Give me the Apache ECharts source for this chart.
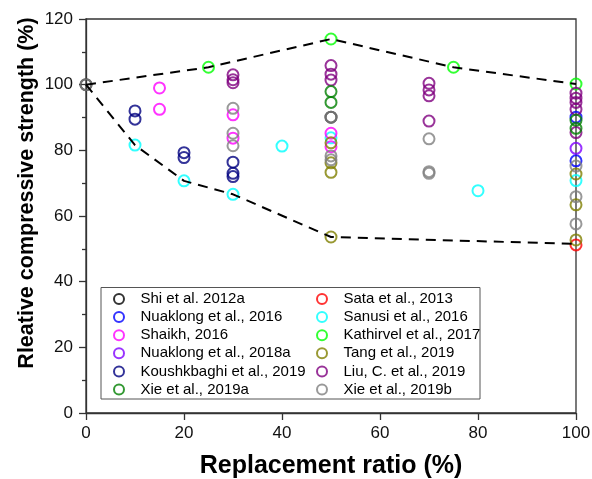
<!DOCTYPE html>
<html>
<head>
<meta charset="utf-8">
<script src="https://cdn.jsdelivr.net/npm/echarts@6/dist/echarts.min.js"></script>
<style>html,body{margin:0;padding:0;background:#fff;}#c{width:592px;height:479px;}</style>
</head>
<body>
<div id="c"></div>
<script>
// ---- data (x = replacement ratio %, y = relative compressive strength %) ----
const shi2012a      = [[0,100],[50,90.1]];
const sata2013      = [[100,51.2]];
const nuaklong2016  = [[100,90.1],[100,76.8]];
const sanusi2016    = [[10,81.6],[20,70.7],[30,66.6],[40,81.3],[50,83.8],[80,67.7],[100,70.8]];
const shaikh2016    = [[15,99],[15,92.5],[30,90.8],[30,83.7],[50,85.2],[50,81.1]];
const kathirvel2017 = [[25,105.3],[50,113.9],[75,105.3],[100,100.2]];
const nuaklong2018a = [[100,80.6]];
const tang2019      = [[50,82.3],[50,76.2],[50,73.3],[50,53.6],[100,72.8],[100,63.4],[100,52.7]];
const koushkbaghi2019 = [[10,92],[10,89.5],[20,79.3],[20,77.8],[30,76.4],[30,73],[30,72]];
const liu2019       = [[30,103],[30,101.5],[30,100.6],[50,105.8],[50,103.2],[50,101.4],[70,100.4],[70,98.4],[70,96.6],[70,88.9],[100,97.4],[100,95.9],[100,94.6],[100,92.5],[100,85.4]];
const xie2019a      = [[50,97.9],[50,94.6],[100,89.2],[100,86.7]];
const xie2019b      = [[0,100],[30,92.8],[30,85.2],[30,81.4],[50,90.1],[50,78.3],[50,77.1],[70,83.5],[70,73.5],[70,73],[100,75.2],[100,65.9],[100,57.6]];

const upperBound = [[0,100],[25,105.3],[50,113.9],[75,105.3],[100,100.2]];
const lowerBound = [[0,100],[10,81.6],[20,70.7],[30,66.6],[50,53.6],[100,51.5]];

const leftNames  = ['Shi et al. 2012a','Nuaklong et al., 2016','Shaikh, 2016','Nuaklong et al., 2018a','Koushkbaghi et al., 2019','Xie et al., 2019a'];
const rightNames = ['Sata et al., 2013','Sanusi et al., 2016','Kathirvel et al., 2017','Tang et al., 2019','Liu, C. et al., 2019','Xie et al., 2019b'];

const xTicks = [0,20,40,60,80,100];
const yTicks = [0,20,40,60,80,100,120];

// series name -> data, color (drawing order)
const seriesDefs = [
  ['Shi et al. 2012a', shi2012a, '#000000'],
  ['Sata et al., 2013', sata2013, '#ff0000'],
  ['Nuaklong et al., 2016', nuaklong2016, '#0000ff'],
  ['Sanusi et al., 2016', sanusi2016, '#00ffff'],
  ['Shaikh, 2016', shaikh2016, '#ff00ff'],
  ['Kathirvel et al., 2017', kathirvel2017, '#00ff00'],
  ['Nuaklong et al., 2018a', nuaklong2018a, '#8000ff'],
  ['Tang et al., 2019', tang2019, '#808000'],
  ['Koushkbaghi et al., 2019', koushkbaghi2019, '#000080'],
  ['Liu, C. et al., 2019', liu2019, '#800080'],
  ['Xie et al., 2019a', xie2019a, '#008000'],
  ['Xie et al., 2019b', xie2019b, '#808080']
];

const chart = echarts.init(document.getElementById('c'), null, {renderer:'canvas'});
const FONT = 'Liberation Sans, Arial, sans-serif';

const series = seriesDefs.map(([name, data, color]) => ({
  name, type:'scatter', data, symbol:'circle', symbolSize:11, z:3,
  itemStyle:{color:'rgba(0,0,0,0)', borderColor:color, borderWidth:2},
  emphasis:{disabled:true}
}));
[upperBound, lowerBound].forEach(d => series.push({
  type:'line', data:d, symbol:'none', z:4, silent:true,
  lineStyle:{color:'#000', width:2, type:[10,7]}
}));

const legendCommon = {
  orient:'vertical', icon:'circle', itemWidth:33, itemHeight:10, itemGap:3.1,
  textStyle:{fontFamily:FONT, fontSize:15, color:'#000', lineHeight:14},
  selectedMode:false
};

chart.setOption({
  animation:false,
  backgroundColor:'#fff',
  grid:{left:86, right:16, top:19, bottom:66, containLabel:false, outerBoundsMode:'none',
        show:true, borderColor:'#333', borderWidth:1.3, backgroundColor:'transparent'},
  xAxis:{
    type:'value', min:xTicks[0], max:xTicks[xTicks.length-1], interval:20,
    name:'Replacement ratio (%)', nameLocation:'middle', nameGap:41, nameMoveOverlap:false,
    nameTextStyle:{fontFamily:FONT, fontSize:25, fontWeight:'bold', color:'#000'},
    axisLine:{show:true, lineStyle:{color:'#333', width:1.3}},
    axisTick:{show:true, inside:false, length:7, lineStyle:{color:'#333', width:1.3}},
    axisLabel:{fontFamily:FONT, fontSize:17, color:'#111', margin:12},
    splitLine:{show:false}
  },
  yAxis:{
    type:'value', min:yTicks[0], max:yTicks[yTicks.length-1], interval:20,
    name:'Rleative compressive strength (%)', nameLocation:'middle', nameGap:48, nameMoveOverlap:false,
    nameTextStyle:{fontFamily:FONT, fontSize:21.5, fontWeight:'bold', color:'#000', padding:[0,0,0,46]},
    axisLine:{show:true, lineStyle:{color:'#333', width:1.3}},
    axisTick:{show:true, inside:false, length:7, lineStyle:{color:'#333', width:1.3}},
    minorTick:{show:true, splitNumber:2, length:4, lineStyle:{color:'#333', width:1.3}},
    axisLabel:{fontFamily:FONT, fontSize:17, color:'#111', margin:13},
    splitLine:{show:false}
  },
  legend:[
    Object.assign({data:leftNames, left:108, top:286.5}, legendCommon),
    Object.assign({data:rightNames, left:311, top:286.5}, legendCommon)
  ],
  graphic:[{
    type:'rect', shape:{x:101, y:287.5, width:379, height:111.5}, z:1,
    style:{fill:'#fff', stroke:'#555', lineWidth:1}
  }],
  series
});
</script>
</body>
</html>
